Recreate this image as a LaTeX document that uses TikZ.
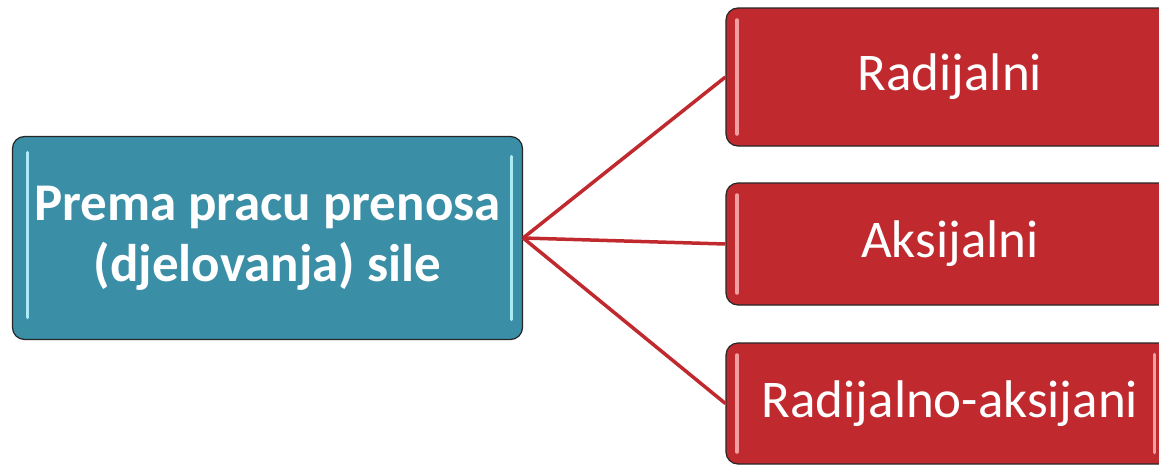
\documentclass[tikz,border=0pt]{standalone}
\usepackage{fontspec}
\setmainfont{Carlito}
\usepackage{xcolor}
\usepackage{tikz}
\usetikzlibrary{arrows.meta,positioning}
\definecolor{tealc}{RGB}{58,142,166}
\definecolor{redc}{RGB}{192,42,47}
\definecolor{glowc}{RGB}{170,235,245}
\definecolor{pinkc}{RGB}{240,160,160}

\begin{document}
\begin{tikzpicture}[x=1pt,y=-1pt]
\tikzstyle{root}=[draw=black!85,line width=1.2pt,rounded corners=12pt,fill=tealc,text=white,
  font=\fontsize{53}{61}\selectfont\bfseries,align=center,minimum width=510pt,minimum height=203pt,
  path picture={\draw[glowc,line width=3.5pt,line cap=round]
    ([xshift=15pt,yshift=-16pt]path picture bounding box.north west) -- ([xshift=15pt,yshift=22pt]path picture bounding box.south west);
    \draw[glowc,line width=3.5pt,line cap=round]
    ([xshift=-11pt,yshift=-20pt]path picture bounding box.north east) -- ([xshift=-11pt,yshift=20pt]path picture bounding box.south east);}]
\tikzstyle{leaf}=[draw=black!85,line width=1.2pt,rounded corners=12pt,fill=redc,text=white,
  font=\fontsize{53}{64}\selectfont,minimum width=448pt,
  path picture={\draw[pinkc,line width=3.5pt,line cap=round]
    ([xshift=11pt,yshift=-12pt]path picture bounding box.north west) -- ([xshift=11pt,yshift=12pt]path picture bounding box.south west);}]
\tikzstyle{link}=[redc,line width=3.5pt]
\useasboundingbox (0,0) rectangle (1159,466);
% left box
\node[root] (sila) at (267.5,238) {Prema pracu prenosa\\(djelovanja) sile};
% right boxes
\node[leaf,minimum height=138pt] (rad) at (950,77) {Radijalni};
\node[leaf,minimum height=122pt] (aks) at (950,244) {Aksijalni};
\node[leaf,minimum height=121pt] (radaks) at (950,403.5) {Radijalno-aksijani};
% gloss on the last box
\draw[pinkc,line width=3.5pt,line cap=round] ([xshift=-20pt,yshift=-12pt]radaks.north east) -- ([xshift=-20pt,yshift=12pt]radaks.south east);
\draw[link] (sila.east) -- (rad.west);
\draw[link] (sila.east) -- (aks.west);
\draw[link] (sila.east) -- (radaks.west);
\end{tikzpicture}
\end{document}
